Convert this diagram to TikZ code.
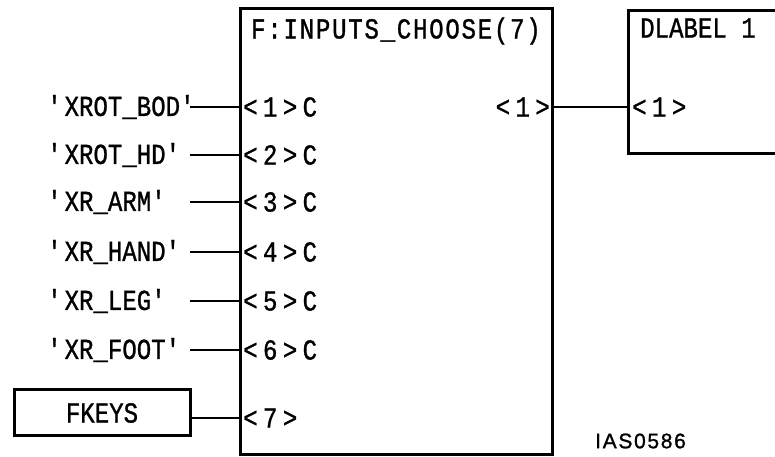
\documentclass[tikz,border=0pt]{standalone}
\usepackage{fontspec}
\setmainfont{Liberation Sans}
\newfontfamily\monof[FakeStretch=0.83,FakeBold=1]{Liberation Mono}
\newfontfamily\pinf[FakeStretch=0.83,FakeBold=1,LetterSpace=18.5]{Liberation Mono}
\newfontfamily\titlef[FakeStretch=0.83,FakeBold=1,LetterSpace=6]{Liberation Mono}
\newfontfamily\idf[LetterSpace=8,FakeBold=1.2]{Liberation Sans}
\newcommand{\q}{\textquotesingle}
\newcommand{\bigsz}{\fontsize{29}{29}\selectfont}
\begin{document}
\begin{tikzpicture}[x=1pt,y=-1pt,
  blockbox/.style={draw,line width=3pt,inner sep=0pt,rectangle},
  wire/.style={line width=2pt},
  srclabel/.style={anchor=west,inner sep=0pt,text width=143pt,align=left,font=\monof\bigsz},
  pinlabel/.style={anchor=west,inner sep=0pt,font=\pinf\bigsz},
  txt/.style={inner sep=0pt,font=\monof\bigsz}]
\useasboundingbox (0,0) rectangle (775,456);
% blocks
\node[blockbox,minimum width=312pt,minimum height=445.5pt] (main) at (396.5,231.25) {};
\node[blockbox,minimum width=162pt,minimum height=143pt] (dlab) at (709,81.5) {};
\node[blockbox,minimum width=176pt,minimum height=46pt] (fkeys) at (102.5,412.5) {};
% titles
\node[txt,anchor=west,font=\titlef\bigsz] (mtitle) at (251,31) {F:INPUTS\_CHOOSE(7)};
\node[txt,anchor=west] (dtitle) at (640,28) {DLABEL 1};
\node[txt] (fktext) at (102,413) {FKEYS};
% source labels
\node[srclabel] (s1) at (47,107) {\q XROT\_BOD\q};
\node[srclabel] (s2) at (47,155) {\q XROT\_HD\q};
\node[srclabel] (s3) at (47,202) {\q XR\_ARM\q};
\node[srclabel] (s4) at (47,252) {\q XR\_HAND\q};
\node[srclabel] (s5) at (47,301) {\q XR\_LEG\q};
\node[srclabel] (s6) at (47,350) {\q XR\_FOOT\q};
% pin labels
\node[pinlabel] (p1) at (243,107) {<1>C};
\node[pinlabel] (p2) at (243,155) {<2>C};
\node[pinlabel] (p3) at (243,202) {<3>C};
\node[pinlabel] (p4) at (243,252) {<4>C};
\node[pinlabel] (p5) at (243,301) {<5>C};
\node[pinlabel] (p6) at (243,350) {<6>C};
\node[pinlabel] (p7) at (243,418) {<7>};
\node[pinlabel,anchor=east] (po) at (550,107) {<1>};
\node[pinlabel] (pd) at (632,107) {<1>};
% wires
\foreach \i in {1,...,6}{
  \draw[wire] (s\i.east) -- (s\i.east -| main.west);
}
\draw[wire] (fkeys.east |- p7) -- (p7 -| main.west);
\draw[wire] (po -| main.east) -- (pd -| dlab.west);
% figure id
\node[anchor=west,inner sep=0pt,font=\idf\fontsize{21}{21}\selectfont] (figid) at (595,441) {IAS0586};
\end{tikzpicture}
\end{document}
